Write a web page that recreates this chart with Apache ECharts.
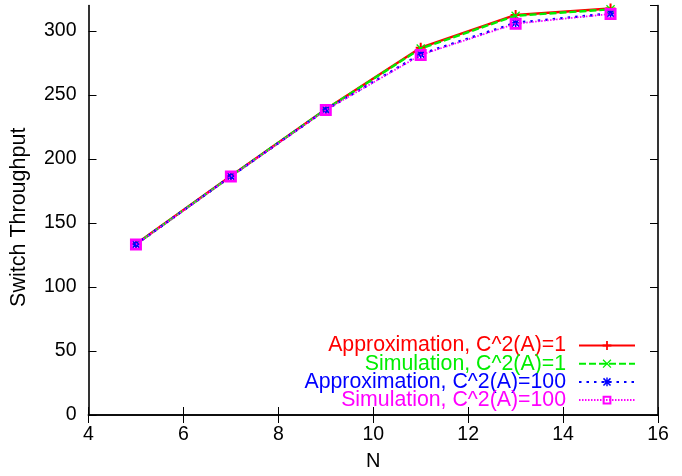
<!DOCTYPE html>
<html>
<head>
<meta charset="utf-8">
<script src="https://cdn.jsdelivr.net/npm/echarts@6/dist/echarts.min.js"></script>
<style>html,body{margin:0;padding:0;background:#fff}#c{width:682px;height:476px}</style>
</head>
<body>
<div id="c"></div>
<script>
var nValues = [5, 7, 9, 11, 13, 15];
var approxC1 = [133.6, 186.8, 239.0, 287.0, 312.6, 317.6];
var simC1 = [133.4, 186.6, 238.8, 286.4, 312.0, 317.0];
var approxC100 = [133.3, 186.5, 238.5, 282.0, 306.5, 313.8];
var simC100 = [133.2, 186.4, 238.3, 281.4, 305.8, 313.4];
var seriesNames = ['Approximation, C^2(A)=1', 'Simulation, C^2(A)=1', 'Approximation, C^2(A)=100', 'Simulation, C^2(A)=100'];
var seriesColors = ['#ff0000', '#00ee00', '#0000ff', '#ff00ff'];
var xTicks = [4, 6, 8, 10, 12, 14, 16];

var FONT = '"Liberation Sans", Arial, Helvetica, sans-serif';
var plusPath = 'path://M4,0H6V4H10V6H6V10H4V6H0V4H4Z';
var crossPath = 'path://M0,1L1,0L10,9L9,10Z M9,0L10,1L1,10L0,9Z';
var starPath = 'path://M4.2,0H5.8V4.2H10V5.8H5.8V10H4.2V5.8H0V4.2H4.2Z M0.4,1.6L1.6,0.4L9.6,8.4L8.4,9.6Z M8.4,0.4L9.6,1.6L1.6,9.6L0.4,8.4Z';
var squarePath = 'path://M0,0H10V10H0Z M2.3,2.3V7.7H7.7V2.3Z';

function pairs(ys) { return nValues.map(function (x, i) { return [x, ys[i]]; }); }

var allData = [approxC1, simC1, approxC100, simC100];
var symbols = [plusPath, crossPath, starPath, squarePath];
var symSizes = [10, 9, 10, 12];
var lineTypes = ['solid', [7, 3], [2.5, 5], [1.5, 1.5]];
var lineWidths = [2.4, 2.4, 2.4, 1.7];

var series = allData.map(function (d, i) {
  return {
    name: seriesNames[i],
    type: 'line',
    data: pairs(d),
    symbol: symbols[i],
    symbolSize: symSizes[i],
    showAllSymbol: true,
    lineStyle: { color: seriesColors[i], width: lineWidths[i], type: lineTypes[i] },
    itemStyle: { color: seriesColors[i] },
    emphasis: { disabled: true },
    animation: false,
    z: 2 + i
  };
});

var axisLineStyle = { show: true, lineStyle: { color: '#000', width: 1.6 } };
var tickStyle = { show: true, inside: true, length: 8, lineStyle: { color: '#000', width: 1 } };

var option = {
  backgroundColor: '#fff',
  animation: false,
  grid: { left: 88.5, right: 24, top: 5.5, bottom: 59.5 },
  legend: {
    orient: 'vertical',
    right: 41,
    top: 330,
    align: 'right',
    itemWidth: 56,
    itemHeight: 11,
    itemGap: -2.8,
    selectedMode: false,
    textStyle: { fontFamily: FONT, fontSize: 21.3, padding: [0, 8, 0, 0] },
    data: seriesNames.map(function (n, i) {
      return { name: n, textStyle: { color: seriesColors[i] } };
    })
  },
  xAxis: [{
    type: 'value', min: 4, max: 16, interval: 2,
    name: 'N', nameLocation: 'middle', nameGap: 36,
    nameTextStyle: { fontFamily: FONT, fontSize: 20, color: '#000' },
    axisLine: axisLineStyle, axisTick: tickStyle, splitLine: { show: false },
    axisLabel: { fontFamily: FONT, fontSize: 19.5, color: '#000', margin: 10 }
  }, {
    type: 'value', min: 4, max: 16, interval: 2, position: 'top',
    axisLine: axisLineStyle, axisTick: tickStyle, splitLine: { show: false },
    axisLabel: { show: false }
  }],
  yAxis: [{
    type: 'value', min: 0, max: 320, interval: 50,
    name: 'Switch Throughput', nameLocation: 'middle', nameGap: 58,
    nameTextStyle: { fontFamily: FONT, fontSize: 21.5, color: '#000', padding: [0, 14, 0, 0] },
    axisLine: axisLineStyle, axisTick: tickStyle, splitLine: { show: false },
    axisLabel: { fontFamily: FONT, fontSize: 19.5, color: '#000', margin: 12, showMaxLabel: false,
      formatter: function (v) { return v % 50 === 0 ? String(v) : ''; } }
  }, {
    type: 'value', min: 0, max: 320, interval: 50, position: 'right',
    axisLine: axisLineStyle, axisTick: tickStyle, splitLine: { show: false },
    axisLabel: { show: false }
  }],
  series: series
};

var chart = echarts.init(document.getElementById('c'), null, { renderer: 'canvas' });
chart.setOption(option);
</script>
</body>
</html>
